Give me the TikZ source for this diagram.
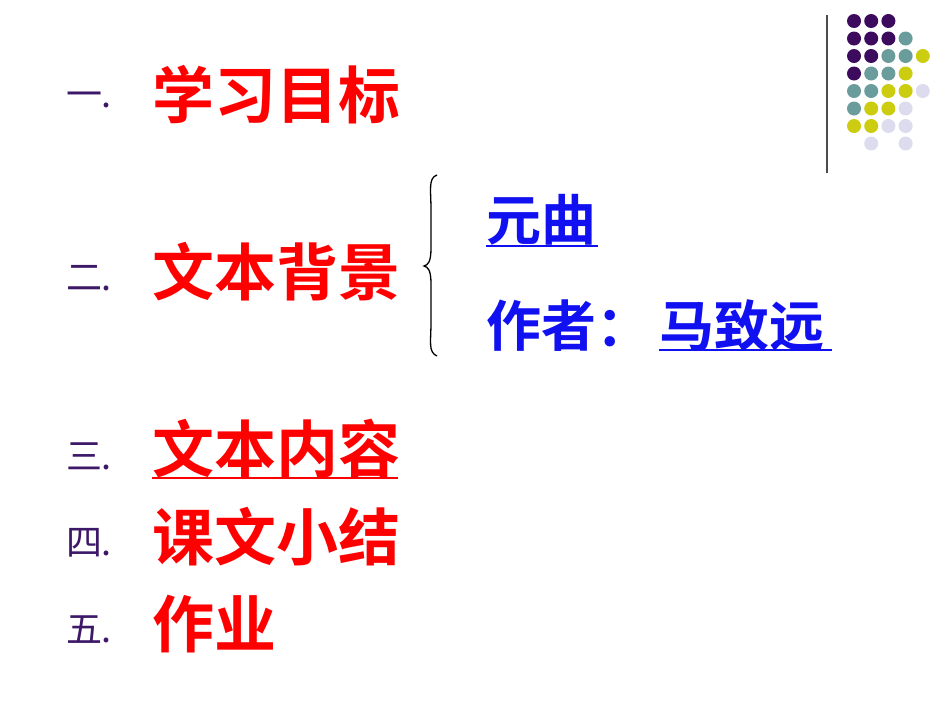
\documentclass[tikz,border=0pt]{standalone}
\usepackage{fontspec}
\newfontfamily\cjk{Noto Sans CJK SC}
\newfontfamily\cjkb{Noto Sans CJK SC Bold}
\definecolor{dp}{HTML}{3D0B5E}
\definecolor{dt}{HTML}{6A9C9C}
\definecolor{dy}{HTML}{CCCC11}
\definecolor{dl}{HTML}{DCDCEE}
\definecolor{nb}{HTML}{3D1868}
\definecolor{bl}{HTML}{1010F0}
\begin{document}
\begin{tikzpicture}[x=1pt,y=-1pt,
 numtxt/.style={anchor=west,text=nb,font=\cjk\fontsize{36}{36}\selectfont,inner sep=0},
 redtxt/.style={anchor=west,text=red,font=\cjkb\fontsize{62}{62}\selectfont,inner sep=0},
 blutxt/.style={anchor=west,text=bl,font=\cjkb\fontsize{55}{55}\selectfont,inner sep=0}]
\useasboundingbox[fill=white] (0,0) rectangle (950,713);
\draw[gray!60!black,line width=1.2] (827,15) -- (827,173);
\foreach \r/\row in {0/{1,1,1,0,0},1/{1,1,1,2,0},2/{1,1,2,2,3},3/{1,2,2,3,0},4/{2,2,3,3,4},5/{2,3,3,4,0},6/{3,3,4,4,0},7/{0,4,0,4,0}}{
 \foreach \c [count=\i from 0] in \row {
  \ifcase\c\or\fill[dp] (854+17.2*\i,21+17.5*\r) circle (7);
  \or\fill[dt] (854+17.2*\i,21+17.5*\r) circle (7);
  \or\fill[dy] (854+17.2*\i,21+17.5*\r) circle (7);
  \or\fill[dl] (854+17.2*\i,21+17.5*\r) circle (7);\fi
 }}
\node[numtxt] (n1) at (66,100) {一\kern-1pt.};
\node[numtxt] (n2) at (66,278) {二\kern-1pt.};
\node[numtxt] (n3) at (66,456) {三\kern-1pt.};
\node[numtxt] (n4) at (66,543) {四\kern-1pt.};
\node[numtxt] (n5) at (66,630) {五\kern-1pt.};
\node[redtxt] (t1) at (152,95) {学习目标};
\node[redtxt] (t2) at (152,272) {文本背景};
\node[redtxt] (t3) at (152,449) {文本内容};
\node[redtxt] (t4) at (152,537) {课文小结};
\node[redtxt] (t5) at (152,624) {作业};
\draw[red,line width=1.5] (152,478) -- (398,478);
\draw[line width=1.3] (437,175) .. controls (428,178) and (431,190) .. (431,210) -- (431,248) .. controls (431,262) and (428,265) .. (424,266) .. controls (428,267) and (431,270) .. (431,284) -- (431,322) .. controls (431,342) and (428,352) .. (437,356);
\node[blutxt] (b1) at (486,220) {元曲};
\draw[bl,line width=1.5] (486,246) -- (598,246);
\node[blutxt] (b2) at (486,326) {作者：};
\node[blutxt] (b3) at (659,326) {马致远};
\draw[bl,line width=1.5] (659,350) -- (832,350);
\end{tikzpicture}
\end{document}
